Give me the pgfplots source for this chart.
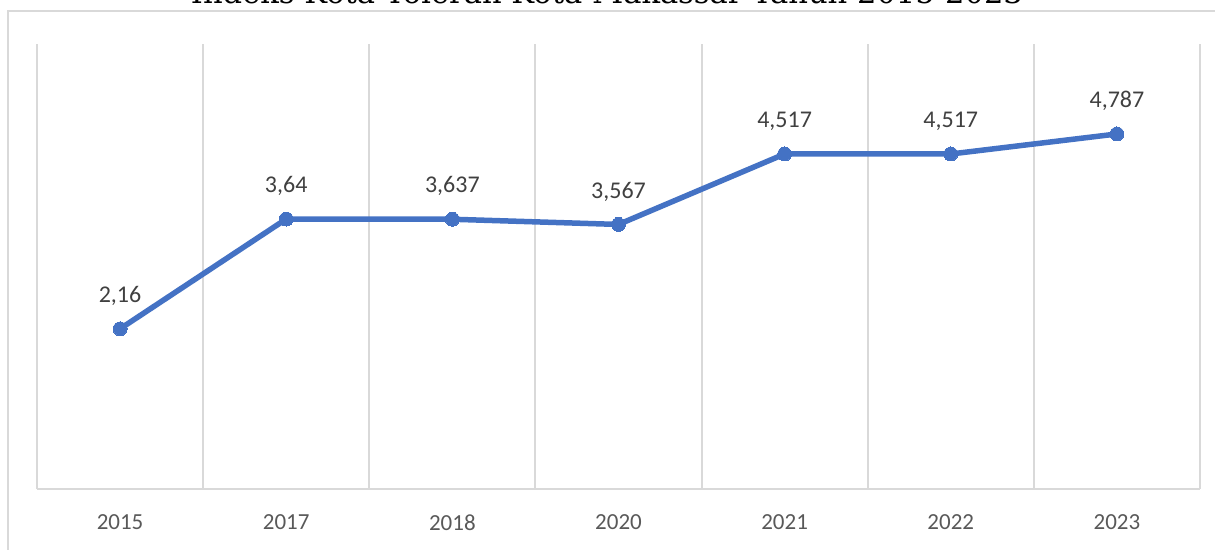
\documentclass[border=0pt]{standalone}
\usepackage{pgfplots}
\pgfplotsset{compat=1.18}
\usepackage{pgfplotstable}
\usepackage{fontspec}
\setmainfont{Carlito}
\newfontfamily\titlefont{DejaVu Serif}
\definecolor{lineblue}{HTML}{4472C4}
\definecolor{gridgray}{HTML}{D9D9D9}
\definecolor{ticktext}{HTML}{595959}
\definecolor{labeltext}{HTML}{404040}

\pgfplotstableread{
x val lab
0 2.16 {2,16}
1 3.64 {3,64}
2 3.637 {3,637}
3 3.567 {3,567}
4 4.517 {4,517}
5 4.517 {4,517}
6 4.787 {4,787}
}\datatable

\begin{document}
\begin{tikzpicture}
\useasboundingbox (0,0) rectangle (607.5pt,275pt);
\clip (0,0) rectangle (607.5pt,275pt);
\draw[gridgray, line width=1pt] (4pt,-1pt) -- (4pt,269.25pt) -- (620pt,269.25pt);
\node[anchor=base, inner sep=0pt] at (303.5pt,273pt) {\resizebox{416pt}{!}{\titlefont Indeks Kota Toleran Kota Makassar Tahun 2015-2023}};
\begin{axis}[at={(18.5pt,30.5pt)}, anchor=south west, width=581.5pt, height=222.5pt, scale only axis,
 xmin=-0.5, xmax=6.5, ymin=0, ymax=6,
 axis y line=none, axis x line*=bottom, x axis line style={gridgray, line width=1pt, -},
 xtick={0,...,6}, xticklabels={2015,2017,2018,2020,2021,2022,2023},
 minor xtick={-0.5,0.5,...,6.5}, xminorgrids, minor grid style={gridgray, line width=1pt},
 major tick length=0pt, minor tick length=0pt,
 xticklabel style={font=\fontsize{11.5}{13}\selectfont, text=ticktext, yshift=-9.5pt},
 clip=false]
\addplot[lineblue, line width=2.75pt, mark=*, mark size=3.5pt,
  mark options={fill=lineblue, draw=lineblue, line width=0pt},
  nodes near coords, point meta=explicit symbolic,
  every node near coord/.append style={anchor=center, yshift=16.5pt, font=\fontsize{12}{14}\selectfont, text=labeltext}]
  table[x=x, y=val, meta=lab] {\datatable};
\end{axis}
\end{tikzpicture}
\end{document}
